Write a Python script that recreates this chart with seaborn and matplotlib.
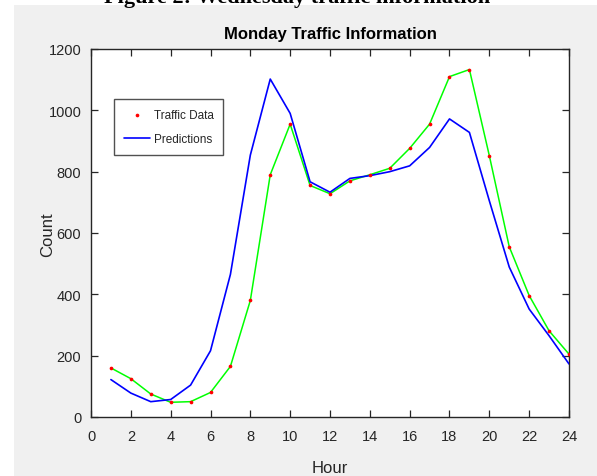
import matplotlib
matplotlib.use("Agg")
import matplotlib.pyplot as plt
import seaborn as sns
import pandas as pd
from matplotlib.patches import Rectangle

hours = list(range(1, 25))
traffic = [160, 125, 75, 48, 50, 80, 165, 380, 790, 955, 755, 728,
           770, 790, 811, 876, 955, 1110, 1133, 852, 555, 396, 281, 205]
predictions = [122, 78, 50, 57, 104, 216, 465, 854, 1102, 990, 767, 733,
               778, 787, 800, 819, 879, 972, 928, 705, 489, 352, 265, 173]
x_ticks = list(range(0, 25, 2))
y_ticks = list(range(0, 1201, 200))

df = pd.DataFrame({"Hour": hours, "Traffic": traffic, "Pred": predictions})

sns.set_style("white")
fam = ["Liberation Sans", "DejaVu Sans"]
plt.rcParams["font.family"] = fam

W, H = 597, 477
fig = plt.figure(figsize=(W / 100, H / 100), dpi=100, facecolor="#f0f0f0")

# white margins of the page around the figure screenshot
fig.patches.append(Rectangle((0, 1 - 6 / H), 1, 6 / H, transform=fig.transFigure,
                             facecolor="white", edgecolor="none", zorder=0))
fig.patches.append(Rectangle((0, 0), 14 / W, 1, transform=fig.transFigure,
                             facecolor="white", edgecolor="none", zorder=0))
fig.text(297 / W, 1 - 3 / H, "Figure 2: Wednesday traffic information",
         ha="center", va="baseline", fontsize=16, fontweight="bold",
         family=["Liberation Serif", "DejaVu Serif"], color="black")

ax = fig.add_axes([91 / W, 1 - 418 / H, (569 - 91) / W, (418 - 50) / H])
ax.set_facecolor("white")

sns.scatterplot(data=df, x="Hour", y="Traffic", ax=ax, color="red", marker="o",
                s=7, linewidth=0, label="Traffic Data", zorder=4)
sns.lineplot(data=df, x="Hour", y="Pred", ax=ax, color="#0000ff", linewidth=1.2,
             label="Predictions", zorder=3)
sns.lineplot(data=df, x="Hour", y="Traffic", ax=ax, color="#00ff00", linewidth=1.1,
             zorder=2, legend=False)

ax.set_xlim(0, 24)
ax.set_ylim(0, 1200)
ax.set_xticks(x_ticks)
ax.set_yticks(y_ticks)
ax.set_xticklabels([str(t) for t in x_ticks])
ax.set_yticklabels([str(t) for t in y_ticks])

for s in ax.spines.values():
    s.set_visible(True)
    s.set_color("#262626")
    s.set_linewidth(1.0)

ax.tick_params(axis="both", which="both", direction="in", length=5, width=0.9,
               color="#262626", labelcolor="#262626", labelsize=10.5,
               top=True, right=True, bottom=True, left=True)
ax.tick_params(axis="y", pad=7)
ax.tick_params(axis="x", pad=9)

ax.set_title("Monday Traffic Information", fontsize=12, fontweight="bold",
             color="black", pad=8)
ax.set_xlabel("Hour", fontsize=12, color="#262626")
ax.xaxis.set_label_coords(0.5, -0.118)
ax.set_ylabel("Count", fontsize=12, color="#262626")
ax.yaxis.set_label_coords(-0.09, 0.497)
ax.yaxis.label.set_va("center")

leg = ax.legend(loc="upper left", bbox_to_anchor=(23 / 478, 1 - 50 / 368),
                frameon=True, fancybox=False, fontsize=8.5, handlelength=2.2,
                handletextpad=0.3, borderpad=0.85, labelspacing=1.0,
                borderaxespad=0, markerscale=1.0)
leg.get_frame().set_edgecolor("#262626")
leg.get_frame().set_linewidth(1.0)
leg.get_frame().set_facecolor("white")

fig.savefig("out.png", dpi=100, facecolor=fig.get_facecolor())
